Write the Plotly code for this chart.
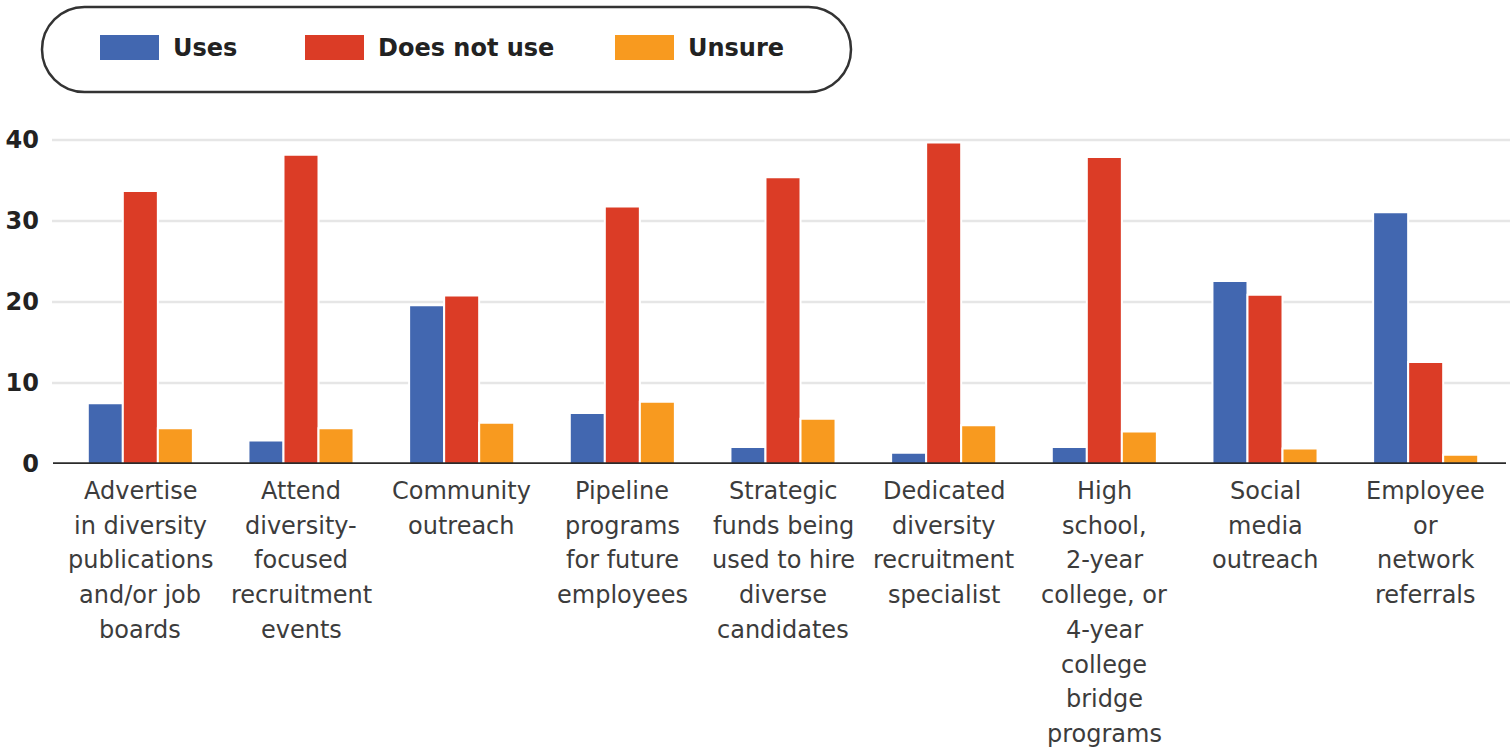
import plotly.graph_objects as go

# ---------------- data ----------------
categories = [
    "Advertise<br>in diversity<br>publications<br>and/or job<br>boards",
    "Attend<br>diversity-<br>focused<br>recruitment<br>events",
    "Community<br>outreach",
    "Pipeline<br>programs<br>for future<br>employees",
    "Strategic<br>funds being<br>used to hire<br>diverse<br>candidates",
    "Dedicated<br>diversity<br>recruitment<br>specialist",
    "High<br>school,<br>2-year<br>college, or<br>4-year<br>college<br>bridge<br>programs",
    "Social<br>media<br>outreach",
    "Employee<br>or<br>network<br>referrals",
]
series_names = ["Uses", "Does not use", "Unsure"]
uses = [7.5, 2.9, 19.6, 6.3, 2.1, 1.4, 2.1, 22.6, 31.1]
does_not_use = [33.7, 38.2, 20.8, 31.8, 35.4, 39.7, 37.9, 20.9, 12.6]
unsure = [4.4, 4.4, 5.1, 7.7, 5.6, 4.8, 4.0, 1.9, 1.15]
y_ticks = [0, 10, 20, 30, 40]

# ---------------- style ----------------
colors = ["#4267b0", "#db3c26", "#f89a1f"]
W, H = 1512, 751
PX_L, PX_R, PX_T, PX_B = 60, 1506, 136, 464  # plot area in pixels


def px_to_paper(x, y):
    return (x - PX_L) / (PX_R - PX_L), (PX_B - y) / (PX_B - PX_T)


fig = go.Figure()
for name, vals, col in zip(series_names, [uses, does_not_use, unsure], colors):
    fig.add_trace(go.Bar(
        name=name, x=categories, y=vals,
        marker=dict(color=col, line=dict(color="white", width=2)),
        showlegend=False,
    ))

# category labels (one annotation per line to mimic the line spacing)
annotations = []
for cat in categories:
    for i, line in enumerate(cat.split("<br>")):
        annotations.append(dict(
            x=cat, xref="x", y=0, yref="y", text=line, showarrow=False,
            yanchor="middle", xanchor="center", yshift=-(27 + 34.7 * i),
            font=dict(family="DejaVu Sans", size=24, color="#3c3c3c"),
        ))

shapes = []
# gridlines (drawn slightly wider than the plot area, as in the reference)
gx0, _ = px_to_paper(52, 0)
gx1, _ = px_to_paper(1510, 0)
for v in y_ticks[1:]:
    shapes.append(dict(type="line", xref="paper", yref="y", x0=gx0, x1=gx1,
                       y0=v, y1=v, line=dict(color="#e6e6e6", width=2.5),
                       layer="below"))
zx0, _ = px_to_paper(53, 0)
shapes.append(dict(type="line", xref="paper", yref="y", x0=zx0, x1=1.0,
                   y0=0, y1=0, line=dict(color="#2b2b2b", width=3.5),
                   layer="above"))

# legend pill
x0, y0, x1, y1 = 42, 7, 851, 92
r = (y1 - y0) / 2
k = 0.5523 * r


def P(x, y):
    a, b = px_to_paper(x, y)
    return f"{a:.5f},{b:.5f}"


path = (
    f"M {P(x0 + r, y0)} L {P(x1 - r, y0)} "
    f"C {P(x1 - r + k, y0)} {P(x1, y0 + r - k)} {P(x1, y0 + r)} "
    f"C {P(x1, y0 + r + k)} {P(x1 - r + k, y1)} {P(x1 - r, y1)} "
    f"L {P(x0 + r, y1)} "
    f"C {P(x0 + r - k, y1)} {P(x0, y0 + r + k)} {P(x0, y0 + r)} "
    f"C {P(x0, y0 + r - k)} {P(x0 + r - k, y0)} {P(x0 + r, y0)} Z"
)
shapes.append(dict(type="path", xref="paper", yref="paper", path=path,
                   line=dict(color="#333333", width=2.5), fillcolor="white",
                   layer="above"))

swatch_x = [100, 305, 615]
for sx, name, col in zip(swatch_x, series_names, colors):
    ax0, ay0 = px_to_paper(sx, 60)
    ax1, ay1 = px_to_paper(sx + 59, 35)
    shapes.append(dict(type="rect", xref="paper", yref="paper",
                       x0=ax0, y0=ay0, x1=ax1, y1=ay1,
                       fillcolor=col, line=dict(width=0), layer="above"))
    tx, ty = px_to_paper(sx + 71, 48)
    annotations.append(dict(
        x=tx, y=ty, xref="paper", yref="paper", text=f"<b>{name}</b>",
        showarrow=False, xanchor="left", yanchor="middle",
        font=dict(family="DejaVu Sans", size=24, color="#222222"),
    ))

fig.update_layout(
    width=W, height=H,
    margin=dict(l=PX_L, r=W - PX_R, t=PX_T, b=H - PX_B, pad=0),
    paper_bgcolor="white", plot_bgcolor="white",
    barmode="group", bargap=0.346, bargroupgap=0.0,
    annotations=annotations, shapes=shapes,
    xaxis=dict(showticklabels=False, showgrid=False, zeroline=False,
               showline=False, ticks="", fixedrange=True),
    yaxis=dict(range=[0, 40.5], tickvals=y_ticks,
               ticktext=[f"<b>{v}</b>" for v in y_ticks],
               tickfont=dict(family="DejaVu Sans", size=24, color="#222222"),
               showgrid=False, zeroline=False,
               showline=False, ticks="", ticklabelstandoff=20),
    font=dict(family="DejaVu Sans"),
)

fig.write_html("out.html", config={"displayModeBar": False},
               post_script="document.body.style.margin='0';")
